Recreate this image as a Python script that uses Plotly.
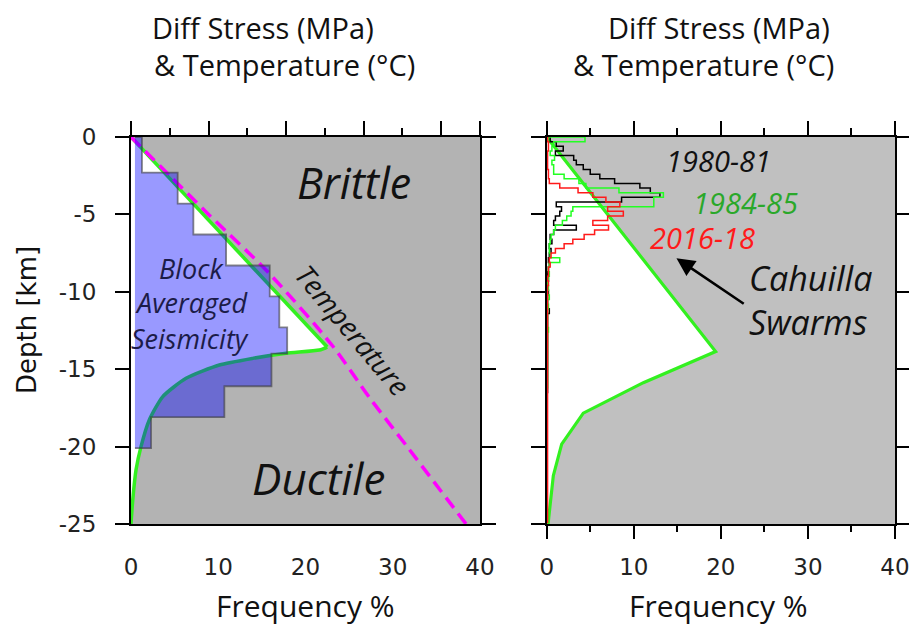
import plotly.graph_objects as go

# ---------------- data ----------------
# Left panel: geotherm
temp_depth_km = [0, 2.5, 5, 8.8, 13.5, 16.8, 20, 25]
temp_c = [0, 50, 100, 178, 260, 307, 356, 432]

# Left panel strength envelope (Diff stress, MPa)
left_env_depth_km = [0, 13.57, 13.76, 13.97, 14.3, 14.73, 15.59, 16.77, 18.28, 20.0, 21.5, 23.6, 25.0]
left_env_mpa = [0, 253, 243, 200, 157, 114, 71, 41, 23.6, 12.9, 6.5, 2, 0]

# Block averaged seismicity (frequency %)
block_edges_km = [0, 2.3, 4.3, 6.3, 8.3, 10.3, 12.3, 14.0, 16.1, 18.1, 20.1]
block_freq = [1.26, 5.35, 7.15, 10.9, 15.9, 17.0, 17.9, 16.1, 10.7, 2.3]
block_base = 0.45

# Right panel strength envelope (Diff stress, MPa)
right_env_depth_km = [0, 13.86, 15.87, 17.84, 19.84, 21.88, 24.87, 25.0]
right_env_mpa = [0, 194, 111, 42, 17.2, 7.6, 1.8, 1.6]

# Right panel swarm depth histograms (frequency %), 0.3 km bins
hist_bin_km = 0.3
freq_1980_81 = [0.4, 1.1, 1.9, 1.0, 3.1, 3.4, 4.2, 5.0, 6.1, 7.8, 10.7, 11.9, 13.0, 8.6,
                1.1, 1.7, 1.5, 1.0, 0.8, 3.4, 0.8, 0.4, 0.6, 0.3, 0.5, 0.3, 0.2, 0.3,
                0.2, 0.1, 0.2, 0.1, 0.1, 0.2, 0.1, 0.1, 0.1, 0.3, 0.1, 0.1, 0.1, 0.1,
                0.1, 0.1, 0.1, 0.1, 0.1, 0.1, 0.1, 0.1, 0.1, 0.1, 0.1, 0.1, 0.1, 0.0]
freq_1984_85 = [4.4, 0.8, 0.6, 0.4, 0.9, 0.6, 0.8, 0.8, 2.0, 3.7, 4.5, 8.3, 13.4, 12.3,
                12.3, 3.0, 2.8, 2.3, 1.8, 1.0, 0.8, 0.5, 0.4, 0.3, 0.3, 0.4, 1.5, 0.3,
                0.2, 0.3, 0.2, 0.1, 0.2, 0.1, 0.3, 0.1, 0.2, 0.1, 0.1, 0.1, 0.1, 0.2,
                0.1, 0.1, 0.1, 0.1, 0.1, 0.1, 0.1, 0.1, 0.1, 0.1, 0.1, 0.1, 0.0, 0.0]
freq_2016_18 = [0.1, 0.2, 0.2, 0.1, 0.1, 0.1, 0.1, 0.2, 0.2, 0.3, 1.5, 3.6, 5.3, 6.8,
                8.4, 7.0, 8.8, 7.0, 5.3, 7.1, 5.5, 4.3, 3.0, 2.0, 1.0, 0.5, 0.3, 0.4,
                0.2, 0.2, 0.1, 0.2, 0.1, 0.1, 0.1, 0.1, 0.1, 0.1, 0.1, 0.1, 0.1, 0.1,
                0.1, 0.1, 0.1, 0.1, 0.1, 0.1, 0.1, 0.1, 0.1, 0.1, 0.1, 0.1, 0.1, 0.1,
                0.1, 0.1, 0.1, 0.1, 0.1, 0.1, 0.1, 0.1, 0.1, 0.1, 0.1, 0.1, 0.1, 0.1,
                0.1, 0.1, 0.1, 0.1, 0.1, 0.1, 0.1, 0.1, 0.1, 0.1, 0.1, 0.1, 0.1]

freq_ticks = [0, 10, 20, 30, 40]
stress_ticks = [0, 100, 200, 300, 400]
depth_ticks = [0, -5, -10, -15, -20, -25]
depth_labels = ["0", "-5", "-10", "-15", "-20", "-25"]

# ---------------- layout geometry ----------------
W, H = 917, 631
OFF = 8  # page body margin
ML, MR, MT, MB = 131 - OFF, 22 + OFF, 137 - OFF, 107 + OFF
PW, PH = W - ML - MR, H - MT - MB


def px(x):
    return (x - OFF - ML) / PW


def py(y):
    return (H - MB - (y - OFF)) / PH


left_dom = [0, px(480)]
right_dom = [px(546.7), 1]

GRAY_L = "#b3b3b3"
GRAY_R = "#c0c0c0"
GREEN = "#33f020"
TICKFONT = dict(family="DejaVu Sans", size=23, color="#222")
LABFONT = "Open Sans"

fig = go.Figure()


def step_outline(values, edges, base=0.0):
    xs, ys = [base], [-edges[0]]
    for i, v in enumerate(values):
        xs += [v, v]
        ys += [-edges[i], -edges[i + 1]]
    xs.append(base)
    ys.append(-edges[len(values)])
    return xs, ys


# ---- left panel (base axis x = stress/temperature) ----
fig.add_trace(go.Scatter(x=left_env_mpa + [0], y=[-d for d in left_env_depth_km] + [0],
                         xaxis="x", yaxis="y", fill="toself", fillcolor="white",
                         mode="lines", line=dict(width=0), hoverinfo="skip"))
fig.add_trace(go.Scatter(x=left_env_mpa[:2], y=[-d for d in left_env_depth_km[:2]],
                         xaxis="x", yaxis="y", mode="lines",
                         line=dict(color=GREEN, width=3.5)))
fig.add_trace(go.Scatter(x=left_env_mpa[1:], y=[-d for d in left_env_depth_km[1:]],
                         xaxis="x", yaxis="y", mode="lines",
                         line=dict(color=GREEN, width=3.5, shape="spline", smoothing=0.6)))
fig.add_trace(go.Scatter(x=temp_c, y=[-d for d in temp_depth_km], xaxis="x", yaxis="y",
                         mode="lines", line=dict(color="#ff00ff", width=3.5, dash="13px,7px",
                                                 shape="spline", smoothing=0.8)))
# block averaged seismicity on frequency overlay axis (drawn above)
bx, by = step_outline(block_freq, block_edges_km, block_base)
fig.add_trace(go.Scatter(x=bx, y=by, xaxis="x2", yaxis="y", fill="toself",
                         fillcolor="rgba(0,0,255,0.40)", mode="lines",
                         line=dict(color="rgba(60,60,60,0.6)", width=1.8)))

# ---- right panel (base axis x5 = stress) ----
fig.add_trace(go.Scatter(x=right_env_mpa + [0], y=[-d for d in right_env_depth_km] + [0],
                         xaxis="x5", yaxis="y2", fill="toself", fillcolor="white",
                         mode="lines", line=dict(width=0), hoverinfo="skip"))
fig.add_trace(go.Scatter(x=right_env_mpa, y=[-d for d in right_env_depth_km],
                         xaxis="x5", yaxis="y2", mode="lines",
                         line=dict(color=GREEN, width=3.2)))
for vals, col in [(freq_1980_81, "black"), (freq_1984_85, "#22ff22"), (freq_2016_18, "#ff1a1a")]:
    edges = [i * hist_bin_km for i in range(len(vals) + 1)]
    hx, hy = step_outline(vals, edges)
    fig.add_trace(go.Scatter(x=hx, y=hy, xaxis="x6", yaxis="y2", mode="lines",
                             line=dict(color=col, width=1.5)))

# ---------------- axes ----------------
frame = dict(showline=True, linecolor="black", linewidth=2, showgrid=False, zeroline=False)
minor50 = dict(ticks="outside", ticklen=7, tickwidth=1.5, tickcolor="black", dtick=50, showgrid=False)
tick_only = dict(showgrid=False, zeroline=False, showline=False, showticklabels=False,
                 ticks="outside", ticklen=14, tickwidth=1.5, tickcolor="black", minor=minor50)
label_only = dict(showgrid=False, zeroline=False, showline=False, ticks="outside", ticklen=14,
                  tickcolor="rgba(0,0,0,0)", tickfont=TICKFONT)

fig.update_layout(
    width=W, height=H, margin=dict(l=ML, r=MR, t=MT, b=MB),
    paper_bgcolor="white", plot_bgcolor=GRAY_L, showlegend=False,
    # left panel
    xaxis=dict(domain=left_dom, anchor="y", side="top", range=[0, 450],
               tickvals=[0, 100, 200, 300, 400, 450], showticklabels=False,
               ticks="outside", ticklen=14, tickwidth=1.5, tickcolor="black", minor=minor50,
               mirror=True, **frame),
    xaxis2=dict(overlaying="x", anchor="y", side="bottom", range=[0, 40], tickvals=freq_ticks,
                showgrid=False, zeroline=False, showline=False,
                ticks="outside", ticklen=14, tickcolor="rgba(0,0,0,0)", tickfont=TICKFONT,
                ticklabelstandoff=8),
    xaxis3=dict(overlaying="x", anchor="y", side="bottom", range=[0, 450],
                tickvals=[0, 100, 200, 300, 400, 450], **tick_only),
    xaxis4=dict(overlaying="x", anchor="y", side="top", range=[-10.7, 439],
                tickvals=stress_ticks, ticklabelstandoff=-2, **label_only),
    yaxis=dict(domain=[0, 1], anchor="x", range=[-25, 0], tickvals=depth_ticks,
               ticktext=depth_labels, ticks="outside",
               ticklen=14, tickwidth=1.5, tickcolor="black", tickfont=TICKFONT,
               ticklabelstandoff=14, mirror="ticks", **frame),
    # right panel
    xaxis5=dict(domain=right_dom, anchor="y2", side="top", range=[0, 400],
                tickvals=[0, 100, 200, 300, 400], showticklabels=False,
                ticks="outside", ticklen=14, tickwidth=1.5, tickcolor="black", minor=minor50,
                mirror=True, **frame),
    xaxis6=dict(overlaying="x5", anchor="y2", side="bottom", range=[0, 40], tickvals=freq_ticks,
                showgrid=False, zeroline=False, showline=False,
                ticks="outside", ticklen=14, tickwidth=1.5, tickcolor="black", tickfont=TICKFONT,
                minor=dict(ticks="outside", ticklen=7, tickwidth=1.5, tickcolor="black", dtick=5,
                           showgrid=False),
                ticklabelstandoff=8),
    xaxis7=dict(overlaying="x5", anchor="y2", side="top", range=[-1.7, 452],
                tickvals=stress_ticks, ticklabelstandoff=-2, **label_only),
    yaxis2=dict(domain=[0, 1], anchor="x5", range=[-25, 0], tickvals=depth_ticks,
                ticks="outside", ticklen=14, tickwidth=1.5, tickcolor="black",
                showticklabels=False, mirror="ticks", **frame),
)
fig.add_shape(type="rect", xref="x5 domain", yref="y2 domain", x0=0, x1=1, y0=0, y1=1,
              fillcolor=GRAY_R, line_width=0, layer="below")

# ---------------- annotations ----------------
ann = []


def txt(x, y, s, size, color="#111", italic=False, angle=0, family=LABFONT):
    ann.append(dict(x=px(x), y=py(y), xref="paper", yref="paper", text=s, showarrow=False,
                    textangle=angle,
                    font=dict(family=family, size=size, color=color,
                              style="italic" if italic else "normal"),
                    xanchor="center", yanchor="middle"))


txt(263, 27, "Diff Stress (MPa)", 29)
txt(284, 64, "&amp; Temperature (°C)", 29)
txt(719, 27, "Diff Stress (MPa)", 29)
txt(703, 64, "&amp; Temperature (°C)", 29)
txt(305, 605, "Frequency %", 30)
txt(718, 605, "Frequency %", 30)
txt(27, 320, "Depth [km]", 26, angle=-90, family="DejaVu Sans")

txt(354, 183, "Brittle", 43, italic=True)
txt(318, 478, "Ductile", 44, italic=True)
txt(353, 330, "Temperature", 28, italic=True, angle=50)
txt(191, 268, "Block", 27, color="#1c1c48", italic=True)
txt(191, 302, "Averaged", 27, color="#1c1c48", italic=True)
txt(190, 338, "Seismicity", 27, color="#1c1c48", italic=True)

txt(718, 160, "1980-81", 29, italic=True)
txt(745, 202, "1984-85", 29, color="#2aa82a", italic=True)
txt(702, 237, "2016-18", 29, color="#ff1a1a", italic=True)
txt(810, 278, "Cahuilla", 34, italic=True)
txt(808, 322, "Swarms", 34, italic=True)

ann.append(dict(x=14.9, y=-7.83, xref="x6", yref="y2", ax=22.8, ay=-10.84, axref="x6", ayref="y2",
                text="", showarrow=True, arrowhead=2, arrowsize=1.4, arrowwidth=2.6, arrowcolor="black"))

fig.update_layout(annotations=ann)
fig.write_html("out.html")
